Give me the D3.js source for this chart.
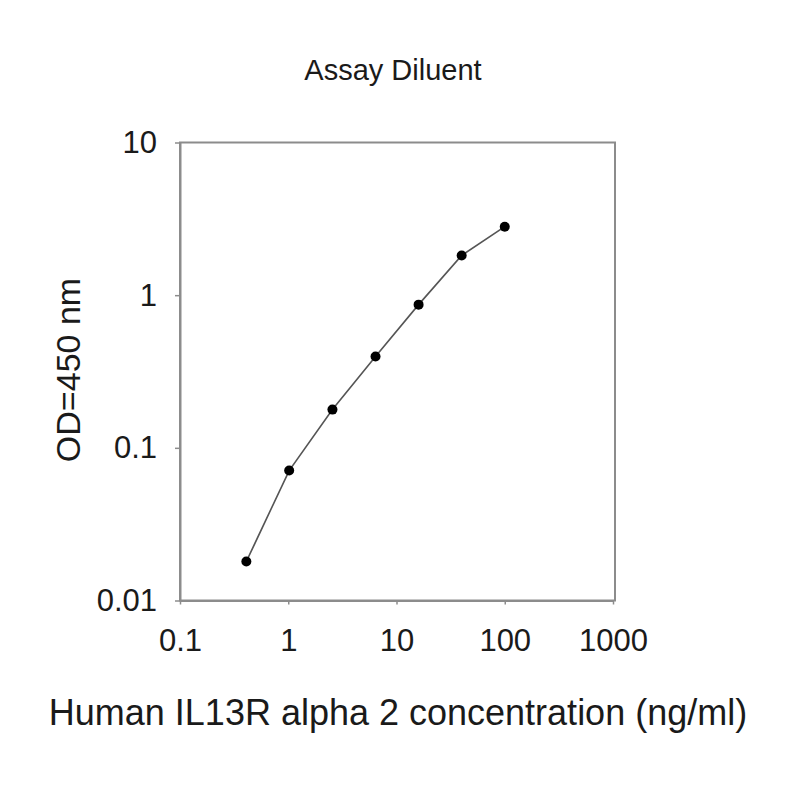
<!DOCTYPE html>
<html lang="en">
<head>
    <meta charset="UTF-8">
    <title>Assay Diluent</title>
    <style>
        body { margin: 0; background: white; }
        svg { font-family: "Liberation Sans", Arial, sans-serif; }
    </style>
</head>
<body>
    <script src="https://d3js.org/d3.v7.min.js"></script>
    <script>
        // standard curve, 2.5-fold dilutions
        let concentration = [0.41, 1.02, 2.56, 6.4, 16, 40, 100];
        let od450 = [0.018, 0.071, 0.178, 0.396, 0.867, 1.82, 2.81];

        let xTicks = [0.1, 1, 10, 100, 1000];
        let yTicks = [0.01, 0.1, 1, 10];
        let xTickLabels = ['0.1', '1', '10', '100', '1000'];
        let yTickLabels = ['0.01', '0.1', '1', '10'];

        let svg = d3.select('body')
            .append('svg')
            .attr('width', 800)
            .attr('height', 800);

        let plotLeft = 180, plotRight = 613, plotTop = 142.5, plotBottom = 600.5;

        let x = d3.scaleLog().domain([0.1, 1000]).range([plotLeft, plotRight]);
        let y = d3.scaleLog().domain([0.01, 10]).range([plotBottom, plotTop]);

        // frame
        svg.append('rect')
            .attr('x', plotLeft)
            .attr('y', plotTop)
            .attr('width', plotRight - plotLeft + 2)
            .attr('height', plotBottom - plotTop)
            .attr('fill', 'none')
            .attr('stroke', '#8c8c8c')
            .attr('stroke-width', 2);

        let xAxis = svg.append('g')
            .attr('transform', `translate(0,${plotBottom})`)
            .call(d3.axisBottom(x)
                .tickValues(xTicks)
                .tickFormat((d, i) => xTickLabels[i])
                .tickSize(4)
                .tickSizeOuter(0)
                .tickPadding(24));

        let yAxis = svg.append('g')
            .attr('transform', `translate(${plotLeft},0)`)
            .call(d3.axisLeft(y)
                .tickValues(yTicks)
                .tickFormat((d, i) => yTickLabels[i])
                .tickSize(5)
                .tickSizeOuter(0)
                .tickPadding(18));

        [xAxis, yAxis].forEach(a => {
            a.select('.domain').attr('stroke', '#8c8c8c').attr('stroke-width', 2);
            a.selectAll('.tick line').attr('stroke', '#8c8c8c').attr('stroke-width', 1.5);
            a.selectAll('.tick text')
                .attr('font-size', 31)
                .attr('fill', '#1a1a1a');
        });

        let pts = concentration.map((c, i) => [c, od450[i]]);

        svg.append('path')
            .datum(pts)
            .attr('d', d3.line().x(d => x(d[0])).y(d => y(d[1])))
            .attr('fill', 'none')
            .attr('stroke', '#555')
            .attr('stroke-width', 1.6);

        svg.selectAll('circle')
            .data(pts)
            .enter()
            .append('circle')
            .attr('cx', d => x(d[0]))
            .attr('cy', d => y(d[1]))
            .attr('r', 5)
            .attr('fill', '#000');

        svg.append('text')
            .attr('x', 393)
            .attr('y', 80)
            .attr('text-anchor', 'middle')
            .attr('font-size', 29)
            .attr('fill', '#1a1a1a')
            .text('Assay Diluent');

        svg.append('text')
            .attr('transform', 'translate(80,370) rotate(-90)')
            .attr('text-anchor', 'middle')
            .attr('font-size', 34)
            .attr('fill', '#1a1a1a')
            .text('OD=450 nm');

        svg.append('text')
            .attr('x', 398)
            .attr('y', 725)
            .attr('text-anchor', 'middle')
            .attr('font-size', 36)
            .attr('fill', '#1a1a1a')
            .text('Human IL13R alpha 2 concentration (ng/ml)');
    </script>
</body>
</html>
